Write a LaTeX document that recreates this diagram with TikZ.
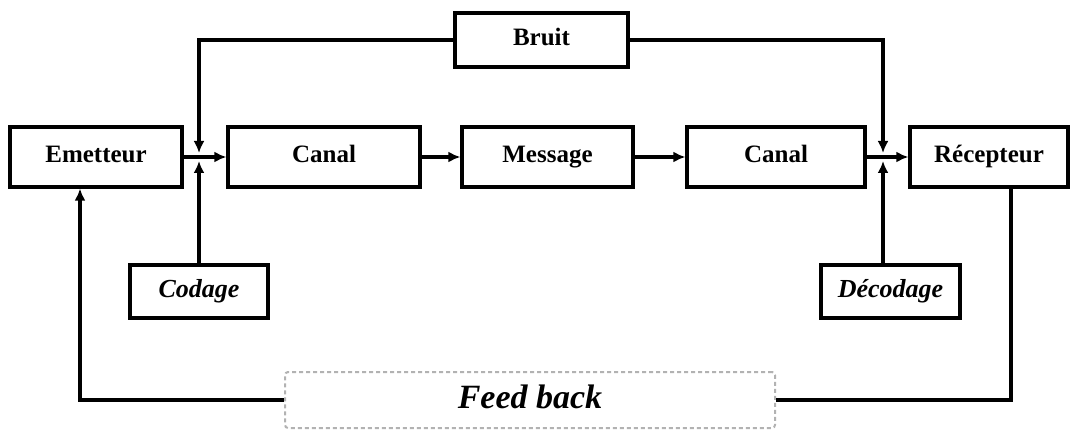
\documentclass[tikz,border=0pt]{standalone}
\usepackage{fontspec}
\setmainfont{Liberation Serif}
\usepackage{xcolor}
\usepackage{tikz}
\usetikzlibrary{arrows.meta}

\begin{document}
\begin{tikzpicture}[x=1pt, y=-1pt, line width=3.2pt,
    boite/.style={rectangle, draw, line width=3.2pt, inner sep=0pt, text height=17pt, text depth=5pt, font=\bfseries\fontsize{25}{28}\selectfont},
    fleche/.style={-{Latex[length=12pt,width=11pt]}}]
            \useasboundingbox (0,0) rectangle (1075,430);
            % Nodes
            \node[boite, minimum width=172pt, minimum height=60pt] (em) at (96,157) {Emetteur};
            \node[boite, minimum width=192pt, minimum height=60pt] (c1) at (324,157) {Canal};
            \node[boite, minimum width=171pt, minimum height=60pt] (msg) at (547.5,157) {Message};
            \node[boite, minimum width=178pt, minimum height=60pt] (c2) at (776,157) {Canal};
            \node[boite, minimum width=158pt, minimum height=60pt] (rec) at (989,157) {Récepteur};
            \node[boite, minimum width=173pt, minimum height=54pt] (bruit) at (541.5,40) {Bruit};
            \node[boite, minimum width=138pt, minimum height=53pt, font=\bfseries\itshape\fontsize{26}{28}\selectfont] (cod) at (199,291.5) {Codage};
            \node[boite, minimum width=139pt, minimum height=53pt, font=\bfseries\itshape\fontsize{26}{28}\selectfont] (dec) at (890.5,291.5) {Décodage};
            \node[boite, draw=gray!60, dashed, dash pattern=on 4pt off 3pt, line width=2pt, rounded corners=3pt, minimum width=490pt, minimum height=56pt, text height=23pt, text depth=7pt, font=\bfseries\itshape\fontsize{34}{36}\selectfont] (fb) at (530,400) {Feed back};
            \coordinate (j1) at (199,157);
            \coordinate (j1t) at (199,153);
            \coordinate (j1b) at (199,161);
            \coordinate (j2) at (883,157);
            \coordinate (j2t) at (883,153);
            \coordinate (j2b) at (883,161);

            % Edges
            \draw[fleche] (em.east) -- (c1.west);
            \draw[fleche] (c1.east) -- (msg.west);
            \draw[fleche] (msg.east) -- (c2.west);
            \draw[fleche] (c2.east) -- (rec.west);
            \draw[fleche] (bruit.west) -| (j1t);
            \draw[fleche] (bruit.east) -| (j2t);
            \draw[fleche] (cod.north) -- (j1b);
            \draw[fleche] (dec.north -| j2) -- (j2b);
            \draw[fleche] (fb.west) -| ([xshift=-16pt]em.south);
            \draw ([xshift=22pt]rec.south) |- (fb.east);
        \end{tikzpicture}
\end{document}
